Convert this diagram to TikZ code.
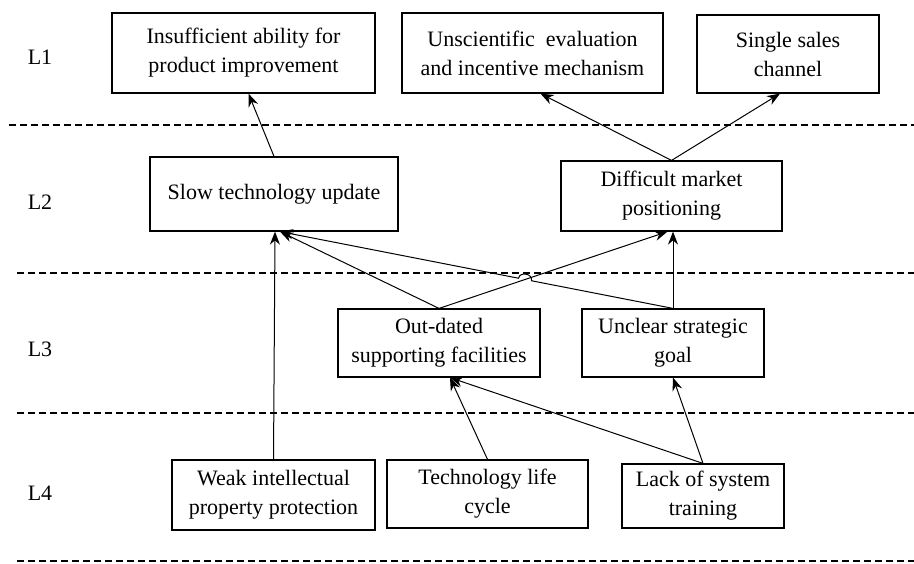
\documentclass[tikz,border=0pt]{standalone}
\usepackage{fontspec}
\setmainfont{Liberation Serif}
\usetikzlibrary{arrows.meta,calc}

\tikzset{
    box/.style={shape=rectangle,draw=black,line width=0.6pt,align=center,
        font=\fontsize{11pt}{14.5pt}\selectfont,inner sep=0pt},
    lvl/.style={font=\fontsize{11pt}{14.5pt}\selectfont},
    sep/.style={dashed,line width=0.9pt,dash pattern=on 3.5pt off 2pt},
    link/.style={-{Stealth[length=6.5pt,width=5pt]},line width=0.5pt}
}

\begin{document}
\begin{tikzpicture}[x=0.5pt,y=-0.5pt]
    \useasboundingbox (0,0) rectangle (914,563);

    \node[lvl] (L1) at (40,57) {L1};
    \node[lvl] (L2) at (40,202) {L2};
    \node[lvl] (L3) at (40,349) {L3};
    \node[lvl] (L4) at (40,493) {L4};

    \draw[sep] (9,125) -- (914,125);
    \draw[sep] (17,273) -- (914,273);
    \draw[sep] (17,413) -- (914,413);
    \draw[sep] (17,561) -- (914,561);

    \node[box,minimum width=131.5pt,minimum height=40pt] (ins) at (243.5,53) {Insufficient ability for\\product improvement};
    \node[box,minimum width=130.5pt,minimum height=40pt] (uns) at (532.5,53) {Unscientific\ \ evaluation\\and incentive mechanism};
    \node[box,minimum width=91pt,minimum height=39pt] (sin) at (788,54) {Single sales\\channel};
    \node[box,minimum width=124pt,minimum height=37pt] (slow) at (274,194) {Slow technology update};
    \node[box,minimum width=110.5pt,minimum height=35pt] (dif) at (671.5,196) {Difficult market\\positioning};
    \node[box,minimum width=101pt,minimum height=34pt] (out) at (439,343) {Out-dated\\supporting facilities};
    \node[box,minimum width=91pt,minimum height=34pt] (unc) at (673,343) {Unclear strategic\\goal};
    \node[box,minimum width=101.5pt,minimum height=35pt] (weak) at (273.5,495) {Weak intellectual\\property protection};
    \node[box,minimum width=100.5pt,minimum height=34pt] (tech) at (487.5,494) {Technology life\\cycle};
    \node[box,minimum width=81pt,minimum height=32pt] (lack) at (703,496) {Lack of system\\training};

    \coordinate (sl) at ([shift={(6,0)}]slow.south);
    \coordinate (ds) at ([shift={(-4,0)}]dif.south);
    \coordinate (os) at ([shift={(11,0)}]out.south);

    \path[link] (slow.north) edge ([shift={(5,0)}]ins.south);
    \path[link] (dif.north) edge ([shift={(8,0)}]uns.south);
    \path[link] (dif.north) edge ([shift={(-8,0)}]sin.south);
    \path[link] (weak.north) edge ([shift={(1,0)}]slow.south);
    \path[link] (out.north) edge (sl);
    \path[link] (out.north) edge (ds);
    \path[link] (unc.north) edge (unc.north |- dif.south);
    \draw[link] (unc.north) -- ($(unc.north)!0.360!(sl)$)
        to[bend right=90,looseness=1.4] ($(unc.north)!0.393!(sl)$) -- (sl);
    \path[link] (tech.north) edge (os);
    \path[link] (lack.north) edge (os);
    \path[link] (lack.north) edge (unc.south);
\end{tikzpicture}
\end{document}
